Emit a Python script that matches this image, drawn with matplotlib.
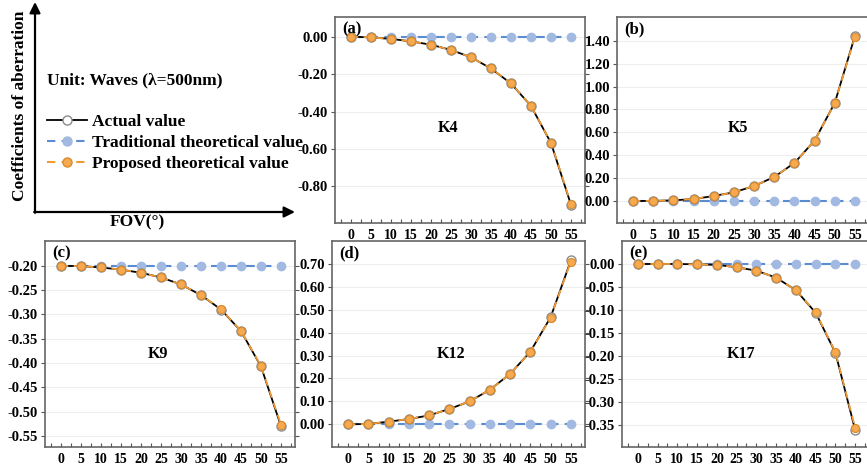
import matplotlib
matplotlib.use("Agg")
import matplotlib.pyplot as plt
from matplotlib.lines import Line2D
from matplotlib.ticker import FormatStrFormatter, MultipleLocator

plt.rcParams['font.family'] = ['Liberation Serif', 'DejaVu Serif']
plt.rcParams['font.weight'] = 'bold'
plt.rcParams['axes.unicode_minus'] = False

# FOV angles (degrees)
fov = [0, 5, 10, 15, 20, 25, 30, 35, 40, 45, 50, 55]

# K4
k4_actual = [0, -0.004, -0.012, -0.025, -0.043, -0.071, -0.110, -0.170, -0.250, -0.370, -0.568, -0.898]
k4_trad = [0, 0, 0, 0, 0, 0, 0, 0, 0, 0, 0, 0]
k4_prop = [0, -0.004, -0.012, -0.025, -0.043, -0.071, -0.110, -0.169, -0.249, -0.369, -0.566, -0.893]
k4_ticks = [0.0, -0.2, -0.4, -0.6, -0.8]
# K5
k5_actual = [0, 0.001, 0.006, 0.017, 0.044, 0.076, 0.131, 0.210, 0.332, 0.527, 0.856, 1.440]
k5_trad = [0, 0, 0, 0, 0, 0, 0, 0, 0, 0, 0, 0]
k5_prop = [0, 0.001, 0.006, 0.017, 0.044, 0.076, 0.131, 0.210, 0.331, 0.526, 0.854, 1.432]
k5_ticks = [0.0, 0.2, 0.4, 0.6, 0.8, 1.0, 1.2, 1.4]
# K9
k9_actual = [-0.200, -0.2007, -0.2034, -0.208, -0.2144, -0.224, -0.2384, -0.2604, -0.290, -0.3345, -0.4073, -0.530]
k9_trad = [-0.20, -0.20, -0.20, -0.20, -0.20, -0.20, -0.20, -0.20, -0.20, -0.20, -0.20, -0.20]
k9_prop = [-0.200, -0.2007, -0.2034, -0.208, -0.2144, -0.224, -0.2384, -0.2602, -0.2895, -0.3340, -0.4065, -0.527]
k9_ticks = [-0.20, -0.25, -0.30, -0.35, -0.40, -0.45, -0.50, -0.55]
# K12
k12_actual = [0, 0.0015, 0.0116, 0.023, 0.039, 0.067, 0.100, 0.151, 0.220, 0.317, 0.467, 0.715]
k12_trad = [0, 0, 0, 0, 0, 0, 0, 0, 0, 0, 0, 0]
k12_prop = [0, 0.0015, 0.0116, 0.023, 0.039, 0.067, 0.100, 0.151, 0.220, 0.316, 0.466, 0.710]
k12_ticks = [0.0, 0.1, 0.2, 0.3, 0.4, 0.5, 0.6, 0.7]
# K17
k17_actual = [0, 0, 0, -0.0007, -0.002, -0.007, -0.0145, -0.0297, -0.057, -0.106, -0.193, -0.361]
k17_trad = [0, 0, 0, 0, 0, 0, 0, 0, 0, 0, 0, 0]
k17_prop = [0, 0, 0, -0.0007, -0.002, -0.007, -0.0145, -0.0297, -0.057, -0.105, -0.192, -0.356]
k17_ticks = [0.0, -0.05, -0.10, -0.15, -0.20, -0.25, -0.30, -0.35]

W, H = 867, 468
fig = plt.figure(figsize=(W / 100, H / 100), dpi=100)

# background overlay in pixel coordinates (arrows, legend, labels)
bg = fig.add_axes([0, 0, 1, 1])
bg.set_xlim(0, W)
bg.set_ylim(H, 0)
bg.axis('off')

c_black = 'black'
c_blue_line = '#5b8bd0'
c_blue_mk = '#a2b9e2'
c_orange = '#f29b35'
c_orange_mk = '#f6a94f'

def px_rect(x0, y0, x1, y1):
    return [x0 / W, (H - y1) / H, (x1 - x0) / W, (y1 - y0) / H]

panels = [
    ('(a)', 'K4', k4_actual, k4_trad, k4_prop, k4_ticks, px_rect(335, 17, 585, 223), (-0.995, 0.105), (0.45, 0.46)),
    ('(b)', 'K5', k5_actual, k5_trad, k5_prop, k5_ticks, px_rect(617, 17, 869, 223), (-0.192, 1.607), (0.48, 0.46)),
    ('(c)', 'K9', k9_actual, k9_trad, k9_prop, k9_ticks, px_rect(45, 241, 295, 447), (-0.573, -0.149), (0.45, 0.45)),
    ('(d)', 'K12', k12_actual, k12_trad, k12_prop, k12_ticks, px_rect(332, 241, 585, 447), (-0.099, 0.800), (0.47, 0.45)),
    ('(e)', 'K17', k17_actual, k17_trad, k17_prop, k17_ticks, px_rect(622, 241, 869, 447), (-0.398, 0.050), (0.48, 0.45)),
]

for tag, name, actual, trad, prop, yticks, rect, ylim, kpos in panels:
    ax = fig.add_axes(rect)
    ax.plot(fov, trad, color=c_blue_line, lw=1.5, ls=(0, (5, 3)), marker='o', ms=6,
            mfc=c_blue_mk, mec=c_blue_mk, zorder=2)
    ax.plot(fov, actual, color=c_black, lw=1.3, marker='o', ms=6.5,
            mfc='white', mec='#8a8a8a', mew=1.0, zorder=3)
    ax.plot(fov, prop, color=c_orange, lw=1.3, ls=(0, (4, 3)), marker='o', ms=5.8,
            mfc=c_orange_mk, mec='#d98a2c', mew=0.8, zorder=4)
    ax.set_xlim(-4, 58.5)
    ax.set_ylim(*ylim)
    ax.set_xticks(fov)
    ax.xaxis.set_minor_locator(MultipleLocator(2.5))
    ax.set_yticks(yticks)
    ax.yaxis.set_major_formatter(FormatStrFormatter('%.2f'))
    ax.tick_params(axis='x', which='both', direction='in', length=3, width=0.8,
                   pad=4, labelsize=10, color='#555555')
    ax.tick_params(axis='y', which='major', direction='out', length=3, width=0.8,
                   pad=2, labelsize=10.5, right=True, color='#555555')
    ax.grid(axis='y', color='#eeeeee', lw=0.8, zorder=0)
    for sp in ax.spines.values():
        sp.set_color('#666666')
        sp.set_linewidth(1.2)
    for lab in ax.get_xticklabels() + ax.get_yticklabels():
        lab.set_fontweight('bold')
    ax.text(0.03, 0.98, tag, transform=ax.transAxes, fontsize=12, fontweight='bold',
            va='top', ha='left')
    ax.text(kpos[0], kpos[1], name, transform=ax.transAxes, fontsize=11.5,
            fontweight='bold', ha='center', va='center')

# axes arrows of the legend panel
arrow = dict(arrowstyle='-|>', lw=1.6, color='black', mutation_scale=16, shrinkA=0, shrinkB=0)
bg.annotate('', xy=(35, 2), xytext=(35, 212.8), arrowprops=arrow)
bg.annotate('', xy=(295, 212), xytext=(34.2, 212), arrowprops=arrow)
bg.text(20, 106, 'Coefficients of aberration', rotation=90, fontsize=12.5,
        fontweight='bold', ha='center', va='center')
bg.text(137, 222, 'FOV(°)', fontsize=12.5, fontweight='bold', ha='center', va='center')
bg.text(47, 80, 'Unit: Waves (λ=500nm)', fontsize=12.5, fontweight='bold',
        ha='left', va='center')

handles = [
    Line2D([], [], color=c_black, lw=1.3, marker='o', ms=6.5, mfc='white', mec='#8a8a8a'),
    Line2D([], [], color=c_blue_line, lw=1.5, ls=(0, (4, 3)), marker='o', ms=6.5,
           mfc=c_blue_mk, mec=c_blue_mk),
    Line2D([], [], color=c_orange, lw=1.5, ls=(0, (4, 3)), marker='o', ms=6.5,
           mfc=c_orange_mk, mec='#d98a2c'),
]
labels = ['Actual value', 'Traditional theoretical value', 'Proposed theoretical value']
bg.legend(handles, labels, loc='upper left', bbox_to_anchor=(47, 114),
          bbox_transform=bg.transData, frameon=False,
          handlelength=2.3, handletextpad=0.3, labelspacing=0.27, borderpad=0,
          borderaxespad=0, prop={'weight': 'bold', 'size': 12.5})

fig.savefig('out.png', dpi=100)
